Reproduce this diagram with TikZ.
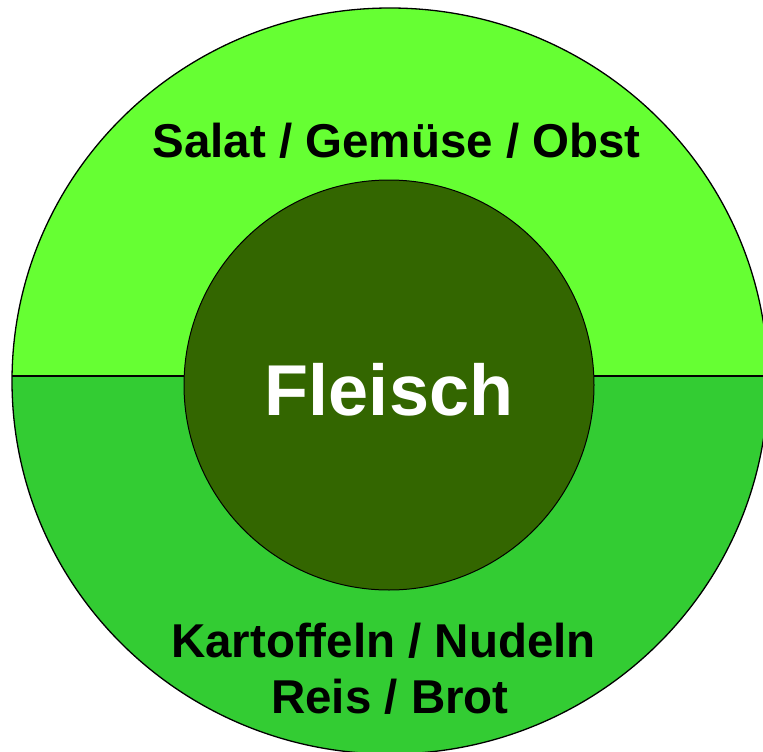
\documentclass[tikz,border=0pt]{standalone}
\usepackage{fontspec}
\setmainfont{Liberation Sans}
\definecolor{topgreen}{HTML}{66FF33}
\definecolor{lowgreen}{HTML}{33CC33}
\definecolor{meatgreen}{HTML}{336600}
\tikzset{
  ring/.style={draw=black, line width=1.3pt},
  label/.style={anchor=base, inner sep=0pt, font=\bfseries\fontsize{47.5}{56}\selectfont}
}

\begin{document}
\begin{tikzpicture}[x=1pt,y=-1pt]
% Parameters
\def\cxo{390}; \def\cyo{381};
\def\rxo{378}; \def\ryo{373};
\def\ysplit{376};
\def\cxi{389}; \def\cyi{385}; \def\rin{205};

% Frame
\useasboundingbox (0,0) rectangle (763,752);
\clip (0,0) rectangle (763,752);

% Outer ring
\fill[lowgreen] (\cxo,\cyo) ellipse [x radius=\rxo, y radius=\ryo];
\begin{scope}
  \clip (\cxo,\cyo) ellipse [x radius=\rxo, y radius=\ryo];
  \fill[topgreen] (0,0) rectangle (800,\ysplit);
\end{scope}
\coordinate (west) at (\cxo-\rxo,\ysplit);
\coordinate (east) at (\cxo+\rxo,\ysplit);
\draw[ring] (west) -- (east);
\draw[ring] (\cxo,\cyo) ellipse [x radius=\rxo, y radius=\ryo];

% Inner circle
\node[circle, draw=black, line width=1pt, fill=meatgreen, minimum size=2*\rin, inner sep=0pt] (plate) at (\cxi,\cyi) {};
\node[label, white, font=\bfseries\fontsize{72}{80}\selectfont] (meat) at (389,415) {Fleisch};

% Labels
\node[label] (veg) at (396.5,157) {Salat / Gemüse / Obst};
\node[label] (starch) at (383.5,657) {Kartoffeln / Nudeln};
\node[label] (bread) at (390,713) {Reis / Brot};
\end{tikzpicture}
\end{document}
